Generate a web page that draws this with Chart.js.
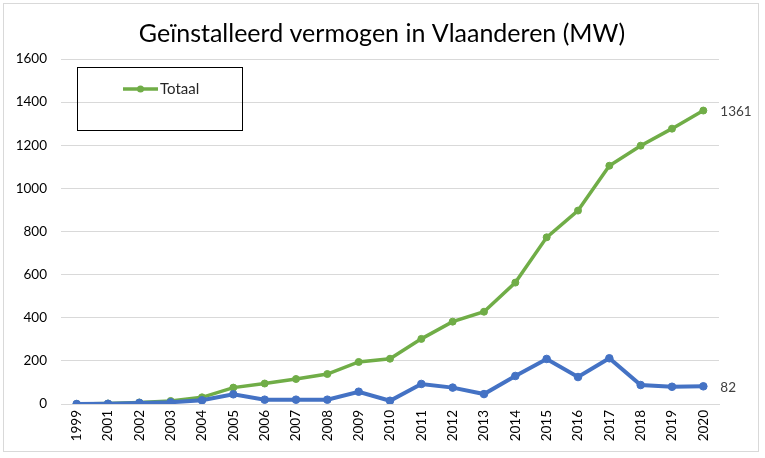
<!DOCTYPE html>
<html>
<head>
<meta charset="utf-8">
<script src="https://cdn.jsdelivr.net/npm/chart.js@4.4.1/dist/chart.umd.min.js"></script>
<style>
  html, body { margin: 0; padding: 0; background: #ffffff; }
  #wrap { width: 765px; height: 458px; position: relative; }
</style>
</head>
<body>
<div id="wrap"><canvas id="c" width="765" height="458"></canvas></div>
<script>
const titleText = 'Geïnstalleerd vermogen in Vlaanderen (MW)';
const years = ['1999','2001','2002','2003','2004','2005','2006','2007','2008','2009','2010',
               '2011','2012','2013','2014','2015','2016','2017','2018','2019','2020'];
const totaal = [0, 2, 7, 14, 31, 76, 95, 116, 139, 195, 210, 302, 382, 428, 563, 773, 897, 1105, 1198, 1277, 1361];
const nieuw  = [0, 1, 5, 8, 17, 45, 20, 20, 20, 57, 15, 93, 76, 46, 130, 209, 125, 212, 88, 80, 82];
const yTicks = [0, 200, 400, 600, 800, 1000, 1200, 1400, 1600];

const GREEN = '#70AD47';
const BLUE = '#4472C4';
const FONT = 'Lato, "Open Sans", sans-serif';

const framePlugin = {
  id: 'frame',
  beforeDraw(chart) {
    const ctx = chart.ctx;
    ctx.save();
    ctx.fillStyle = '#ffffff';
    ctx.fillRect(0, 0, chart.width, chart.height);
    ctx.strokeStyle = '#d9d9d9';
    ctx.lineWidth = 1;
    ctx.strokeRect(3.5, 3.5, 755, 448);
    ctx.restore();
  },
  afterDraw(chart) {
    const ctx = chart.ctx;
    ctx.save();
    // title
    ctx.fillStyle = '#000000';
    ctx.font = '25px ' + FONT;
    ctx.textAlign = 'center';
    ctx.textBaseline = 'middle';
    ctx.fillText(titleText, 382, 34);
    // legend box
    ctx.strokeStyle = '#000000';
    ctx.lineWidth = 1;
    ctx.strokeRect(77.5, 67.5, 165, 63);
    ctx.strokeStyle = GREEN;
    ctx.lineWidth = 3.5;
    ctx.beginPath();
    ctx.moveTo(123, 89);
    ctx.lineTo(158, 89);
    ctx.stroke();
    ctx.fillStyle = GREEN;
    ctx.beginPath();
    ctx.arc(140.5, 89, 3.5, 0, Math.PI * 2);
    ctx.fill();
    ctx.fillStyle = '#262626';
    ctx.font = '15px ' + FONT;
    ctx.textAlign = 'left';
    ctx.fillText('Totaal', 160, 89);
    // end labels
    ctx.fillStyle = '#404040';
    ctx.font = '13.5px ' + FONT;
    chart.data.datasets.forEach((ds, i) => {
      const meta = chart.getDatasetMeta(i);
      const last = meta.data[meta.data.length - 1];
      ctx.fillText(String(ds.data[ds.data.length - 1]), last.x + 17, last.y + 1);
    });
    ctx.restore();
  }
};

new Chart(document.getElementById('c'), {
  type: 'line',
  data: {
    labels: years,
    datasets: [
      {
        label: 'Nieuw geïnstalleerd',
        data: nieuw,
        borderColor: BLUE,
        backgroundColor: BLUE,
        borderWidth: 4,
        pointRadius: 3.8,
        pointBorderWidth: 1,
        pointBackgroundColor: BLUE,
        pointBorderColor: BLUE,
        tension: 0,
        order: 0
      },
      {
        label: 'Totaal',
        data: totaal,
        borderColor: GREEN,
        backgroundColor: GREEN,
        borderWidth: 3.5,
        pointRadius: 3.5,
        pointBorderWidth: 1,
        pointBackgroundColor: GREEN,
        pointBorderColor: GREEN,
        tension: 0,
        order: 1
      }
    ]
  },
  options: {
    responsive: false,
    animation: false,
    devicePixelRatio: 1,
    layout: { padding: { top: 59, right: 46, bottom: 6, left: 0 } },
    plugins: {
      legend: { display: false },
      title: { display: false },
      tooltip: { enabled: false }
    },
    scales: {
      x: {
        offset: true,
        grid: { display: false, drawTicks: false },
        border: { display: true, color: '#d9d9d9', width: 1 },
        ticks: {
          color: '#000000',
          font: { family: FONT, size: 13.5 },
          maxRotation: 90,
          minRotation: 90,
          padding: 6,
          autoSkip: false
        },
        afterFit(scale) { scale.height = 48; }
      },
      y: {
        min: 0,
        max: 1600,
        afterBuildTicks(scale) { scale.ticks = yTicks.map(v => ({ value: v })); },
        grid: { color: '#d9d9d9', lineWidth: 1, drawTicks: false },
        border: { display: false },
        ticks: {
          color: '#000000',
          font: { family: FONT, size: 13.5 },
          padding: 14,
          callback: (v) => String(v)
        },
        afterFit(scale) { scale.width = 61; }
      }
    }
  },
  plugins: [framePlugin]
});
</script>
</body>
</html>
